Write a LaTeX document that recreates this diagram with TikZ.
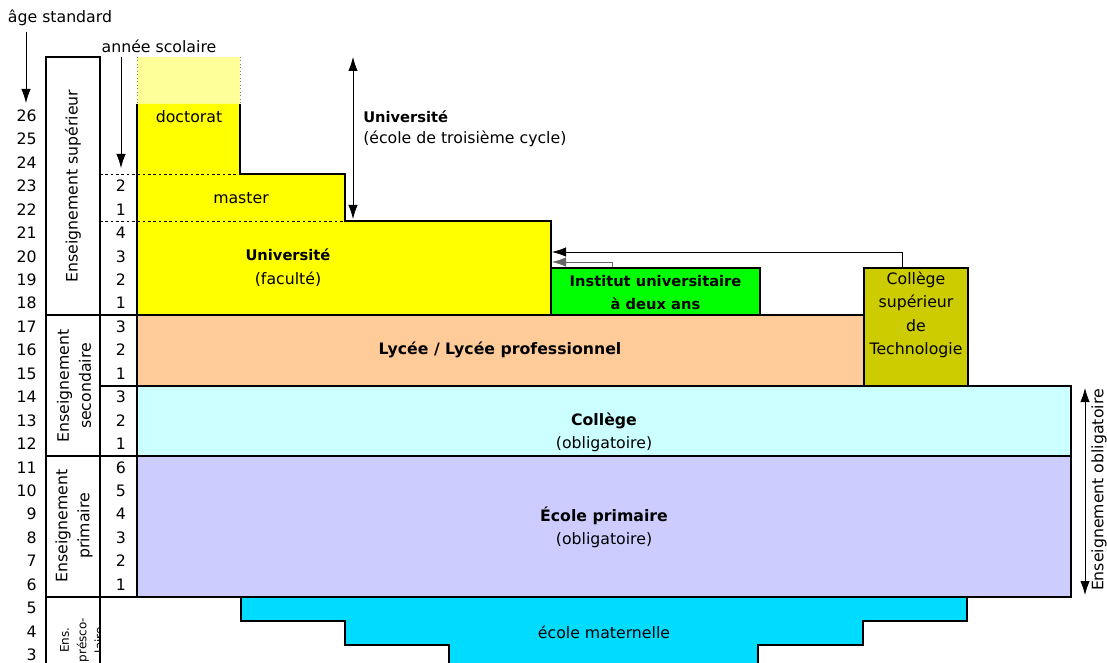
\documentclass[tikz,border=0pt]{standalone}
\usepackage{fontspec}
\setmainfont{DejaVu Sans}
\usepackage{xcolor}
\usepackage{tikz}
\usetikzlibrary{positioning,arrows.meta,calc,fit}

\definecolor{univyellow}{HTML}{FFFF00}
\definecolor{doctpale}{HTML}{FFFF99}
\definecolor{iutgreen}{HTML}{00FF00}
\definecolor{cstolive}{HTML}{CCCC00}
\definecolor{lyceepeach}{HTML}{FFCC99}
\definecolor{collegecyan}{HTML}{CCFFFF}
\definecolor{primairelilac}{HTML}{CCCCFF}
\definecolor{materncyan}{HTML}{00DCFF}

\begin{document}
\begin{tikzpicture}[x=0.75pt,y=-0.75pt,
  txt/.style={font=\fontsize{11.8}{17.6}\selectfont, inner sep=0pt, align=center},
  boldtxt/.style={font=\fontsize{11}{17.6}\selectfont\bfseries, inner sep=0pt, align=center},
  bigbold/.style={font=\fontsize{11.8}{17.6}\selectfont\bfseries, inner sep=0pt, align=center},
  stagetxt/.style={font=\fontsize{11.8}{16.5}\selectfont, inner sep=0pt, align=center, rotate=90},
  border/.style={line width=1.5pt},
  tic/.style={dash pattern=on 2pt off 2pt, line width=0.6pt},
  arr/.style={-{Latex[length=10.5pt,width=7pt]}, line width=0.6pt},
  darr/.style={{Latex[length=10.5pt,width=7pt]}-{Latex[length=10.5pt,width=7pt]}, line width=0.6pt}]
\useasboundingbox (0,0) rectangle (1107,663);
\clip (0,0) rectangle (1107,663);

% doctorat, master, universite
\fill[doctpale] (137,57) rectangle (240,104);
\draw[dotted, gray, line width=0.6pt] (137,57) -- (137,104) (240,57) -- (240,104);
\fill[univyellow] (137,104) -| (240,174) -| (345,221) -| (551,315) -| cycle;
\draw[tic] (100,174) -- (240,174);
\draw[tic] (100,221) -- (345,221);
\draw[border] (240,104) |- (345,174) |- (551,221) -- (551,315);

% ecole maternelle
\filldraw[border, fill=materncyan] (241,597) -- (967,597) -- (967,621) -- (863,621) -- (863,645)
  -- (758,645) -- (758,670) -- (449,670) -- (449,645) -- (345,645) -- (345,621) -- (241,621) -- cycle;

\filldraw[border, fill=lyceepeach] (137,315) rectangle (864,386);
\filldraw[border, fill=collegecyan] (137,386) rectangle (1071,456);
\filldraw[border, fill=primairelilac] (137,456) rectangle (1071,597);

\node[draw, border, fill=iutgreen, inner sep=0pt, fit={(551,268) (760,315)}] (iut) {};
\node[boldtxt] (iuttext) at (655.5,292.5) {Institut universitaire\\à deux ans};
\node[draw, border, fill=cstolive, inner sep=0pt, fit={(864,268) (968,386)}] (cst) {};
\node[txt] (csttext) at (916,315) {Collège\\supérieur\\de\\Technologie};

% colonnes de gauche
\draw[border] (100,670) -- (100,57) -| (46,670);
\draw[border] (137,104) -- (137,597);
\draw[border] (46,315) -- (137,315);
\draw[border] (100,386) -- (137,386);
\draw[border] (46,456) -- (137,456);
\draw[border] (46,597) -- (137,597);

\foreach \a in {3,...,26}
  \node[txt, anchor=east] (age\a) at (37,{104+(26-\a)*23.45+11.6}) {\a};
\foreach \a/\y in {23/2,22/1,21/4,20/3,19/2,18/1,17/3,16/2,15/1,14/3,13/2,12/1,11/6,10/5,9/4,8/3,7/2,6/1}
  \node[txt] (year\a) at (121,{104+(26-\a)*23.45+11.6}) {\y};

\node[stagetxt] (sup) at (73,186) {Enseignement supérieur};
\node[stagetxt] (sec) at (74,386) {Enseignement\\secondaire};
\node[stagetxt] (prim) at (74,526) {Enseignement\\primaire};
\begin{scope}
  \clip (46,597) rectangle (99,663);
  \node[rotate=90, inner sep=0pt, align=center, font=\fontsize{9}{13}\selectfont] (presco) at (82,640) {Ens.\\présco-\\laire};
\end{scope}

% titres et fleches
\node[txt] (agestd) at (60,18) {âge standard};
\coordinate (agetip) at (26,103);
\draw[arr] ([yshift=-4pt]agestd.south -| agetip) -- (agetip);
\node[txt] (anneesc) at (159,46) {année scolaire};
\coordinate (anneetip) at (121,168);
\draw[arr] ([yshift=-3pt]anneesc.south -| anneetip) -- (anneetip);

\coordinate (gradtop) at (353,57);
\coordinate (gradbot) at (353,219);
\draw[darr] (gradtop) -- (gradbot);
\node[boldtxt, anchor=west] (univgrad) at (363,117) {Université};
\node[txt, anchor=west] (univgradsub) at (363,139) {(école de troisième cycle)};

\coordinate (univin1) at (552,252);
\coordinate (univin2) at (552,262);
\draw[arr] ($(cst.north)+(-14,0)$) |- (univin1);
\draw[arr, black!60] ($(iut.north west)+(62,0)$) |- (univin2);

\coordinate (obligtop) at (1085,388);
\coordinate (obligbot) at (1085,595);
\draw[darr] (obligtop) -- (obligbot);
\node[txt, rotate=90] (oblig) at (1099,490) {Enseignement obligatoire};

\node[txt] (doct) at (189,117) {doctorat};
\node[txt] (mast) at (241,198) {master};
\node[boldtxt] (univfac) at (288,267.5) {Université\\\fontsize{11.8}{17.6}\selectfont\mdseries(faculté)};
\node[bigbold] (lycee) at (500,350) {Lycée / Lycée professionnel};
\node[bigbold] (college) at (604,432.5) {Collège\\\mdseries(obligatoire)};
\node[bigbold] (primaire) at (604,527.5) {École primaire\\\mdseries(obligatoire)};
\node[txt] (matern) at (604,632) {école maternelle};
\end{tikzpicture}
\end{document}
